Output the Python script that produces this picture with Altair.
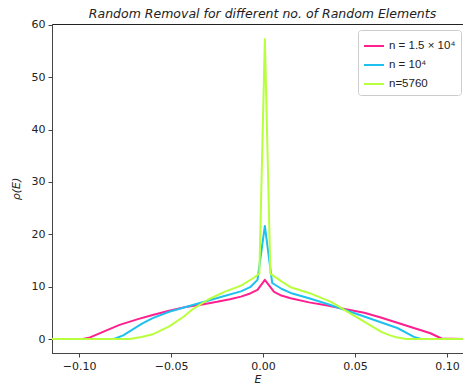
import altair as alt
import pandas as pd

# series 1: n = 1.5 x 10^4 (magenta)
E1 = [-0.1147, -0.098, -0.094, -0.086, -0.078, -0.068, -0.060, -0.051, -0.042, -0.033,
      -0.025, -0.018, -0.012, -0.007, -0.003, 0.001, 0.006, 0.010, 0.015, 0.025,
      0.035, 0.045, 0.055, 0.064, 0.073, 0.082, 0.091, 0.097, 0.1087]
R1 = [0, 0, 0.3, 1.5, 2.7, 3.8, 4.6, 5.4, 6.1, 6.6,
      7.1, 7.6, 8.1, 8.7, 9.4, 11.3, 9.0, 8.3, 7.8, 7.0,
      6.4, 5.7, 5.0, 4.1, 3.1, 2.1, 1.1, 0.1, 0]

# series 2: n = 10^4 (blue)
E2 = [-0.1147, -0.081, -0.076, -0.071, -0.066, -0.060, -0.051, -0.042, -0.030, -0.021,
      -0.012, -0.007, -0.003, 0.001, 0.005, 0.010, 0.015, 0.025, 0.035, 0.045,
      0.055, 0.064, 0.073, 0.079, 0.082, 0.086, 0.1087]
R2 = [0, 0, 0.7, 1.8, 2.9, 4.0, 5.2, 6.1, 7.3, 8.2,
      9.1, 9.9, 11.3, 21.6, 10.7, 9.6, 8.8, 7.8, 6.7, 5.5,
      4.3, 3.2, 2.1, 1.0, 0.4, 0, 0]

# series 3: n = 5760 (lime)
E3 = [-0.1147, -0.0725, -0.066, -0.060, -0.051, -0.043, -0.039, -0.030, -0.021, -0.012,
      -0.005, -0.002, 0.001, 0.004, 0.010, 0.015, 0.025, 0.037, 0.046, 0.055,
      0.064, 0.069, 0.073, 0.078, 0.1087]
R3 = [0, 0, 0.4, 0.9, 2.4, 4.3, 5.5, 7.5, 9.0, 10.2,
      11.7, 12.5, 57.3, 12.5, 11.0, 9.9, 8.8, 7.1, 5.2, 3.3,
      1.4, 0.7, 0.3, 0, 0]

labels = ["n = 1.5 × 10⁴", "n = 10⁴", "n=5760"]
colors = ["#ff1f8f", "#1ec0f0", "#b8ff3c"]

rows = []
for lab, es, rs in zip(labels, [E1, E2, E3], [R1, R2, R3]):
    for i, (e, r) in enumerate(zip(es, rs)):
        rows.append({"E": e, "rho": r, "series": lab, "order": i})
df = pd.DataFrame(rows)

chart = alt.Chart(df).mark_line(strokeWidth=2, clip=True, strokeJoin="round").encode(
    x=alt.X("E:Q",
            scale=alt.Scale(domain=[-0.1147, 0.1087], nice=False, zero=False),
            axis=alt.Axis(values=[-0.10, -0.05, 0.0, 0.05, 0.10], format=".2f",
                          labelExpr="replace(format(datum.value, '.2f'), '-', '−')",
                          title="E", titleFontStyle="italic", titleFontWeight="normal",
                          grid=False, tickSize=4, labelPadding=3, titlePadding=2)),
    y=alt.Y("rho:Q",
            scale=alt.Scale(domain=[-2.675, 60.19], nice=False, zero=False),
            axis=alt.Axis(values=[0, 10, 20, 30, 40, 50, 60], title="ρ(E)",
                          titleFontStyle="italic", titleFontWeight="normal",
                          grid=False, tickSize=4, labelPadding=3, titlePadding=10)),
    color=alt.Color("series:N",
                    scale=alt.Scale(domain=labels, range=colors),
                    sort=labels,
                    legend=alt.Legend(title=None, orient="none", legendX=306, legendY=6,
                                      symbolType="stroke", symbolStrokeWidth=2,
                                      symbolSize=400, labelFontSize=11.5,
                                      rowPadding=2, padding=5,
                                      strokeColor="#cccccc", fillColor="white",
                                      cornerRadius=3, labelColor="#222")),
    order="order:Q",
).properties(
    width=411, height=329,
    padding={"left": 52, "top": 24, "right": 0, "bottom": 35},
    autosize=alt.AutoSizeParams(type="none"),
    title=alt.Title("Random Removal for different no. of Random Elements",
                    fontStyle="italic", fontWeight="normal", fontSize=12.5,
                    font="DejaVu Sans", color="#222", offset=2, dx=5, dy=4),
).configure_view(
    stroke="#222", strokeWidth=1
).configure_axis(
    labelFont="DejaVu Sans", titleFont="DejaVu Sans", labelFontSize=11,
    titleFontSize=11, labelColor="#222", titleColor="#222",
    domainColor="#444", tickColor="#444"
)

chart.save("out.html", embed_options={"renderer": "svg", "actions": False})
